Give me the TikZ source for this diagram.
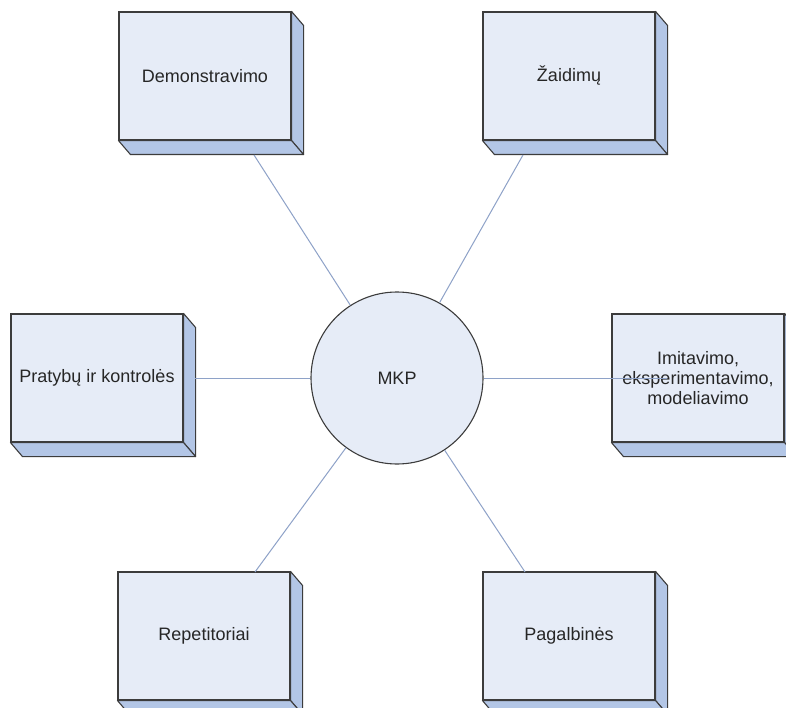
\documentclass[tikz,border=0pt]{standalone}
\usepackage{fontspec}
\setmainfont{Liberation Sans}
\usetikzlibrary{calc}
\definecolor{facefill}{HTML}{E6ECF7}
\definecolor{sidefill}{HTML}{B3C6E6}
\definecolor{edgecol}{HTML}{3C3C3C}
\definecolor{linkcol}{HTML}{8EA2C8}
\definecolor{textcol}{HTML}{262626}
\tikzset{
  cube/.style={draw=edgecol, line width=1.1pt, fill=facefill, rectangle,
    minimum width=172pt, minimum height=128pt, inner sep=0pt,
    font=\fontsize{18}{20}\selectfont, text=textcol, align=center},
  cubeside/.style={draw=edgecol, line width=1.1pt, fill=sidefill, line join=round},
  hub/.style={draw=edgecol, line width=1.1pt, fill=facefill, circle,
    minimum size=172pt, inner sep=0pt,
    font=\fontsize{18}{20}\selectfont, text=textcol},
  link/.style={draw=linkcol, line width=1pt}
}
% depth faces of a box node
\newcommand\cubedepth[1]{%
  \filldraw[cubeside] (#1.north east) -- ++(12,14) -- ($(#1.south east)+(12,14)$)
    -- (#1.south east) -- cycle;
  \filldraw[cubeside] (#1.south west) -- ++(12,14) -- ($(#1.south east)+(12,14)$)
    -- (#1.south east) -- cycle;
}
\begin{document}
\begin{tikzpicture}[x=1pt,y=-1pt]
  \useasboundingbox (0,0) rectangle (786,708);
  \fill[white] (0,0) rectangle (786,708);

  % boxes
  \node[cube] (demo) at (205,76) {Demonstravimo};
  \node[cube] (zaid) at (569,76) {Žaidimų};
  \node[cube] (prat) at (97,378) {Pratybų ir kontrolės};
  \node[cube] (imit) at (698,378) {Imitavimo,\\eksperimentavimo,\\modeliavimo};
  \node[cube] (rep) at (204,636) {Repetitoriai};
  \node[cube] (pag) at (569,636) {Pagalbinės};
  \cubedepth{demo}
  \cubedepth{zaid}
  \cubedepth{prat}
  \cubedepth{imit}
  \cubedepth{rep}
  \cubedepth{pag}

  % central circle
  \node[hub] (mkp) at (397,378) {MKP};

  % connector ends on the boxes
  \coordinate (demoEnd) at (254,155);
  \coordinate (zaidEnd) at (523,155);
  \coordinate (pratEnd) at (195,378);
  \coordinate (imitEnd) at (667,378);
  \coordinate (repEnd) at (255,572);
  \coordinate (pagEnd) at (525,572);

  % connectors
  \draw[link] (mkp) -- (demoEnd);
  \draw[link] (mkp) -- (zaidEnd);
  \draw[link] (mkp) -- (pratEnd);
  \draw[link] (mkp) -- (imitEnd);
  \draw[link] (mkp) -- (repEnd);
  \draw[link] (mkp) -- (pagEnd);
\end{tikzpicture}
\end{document}
